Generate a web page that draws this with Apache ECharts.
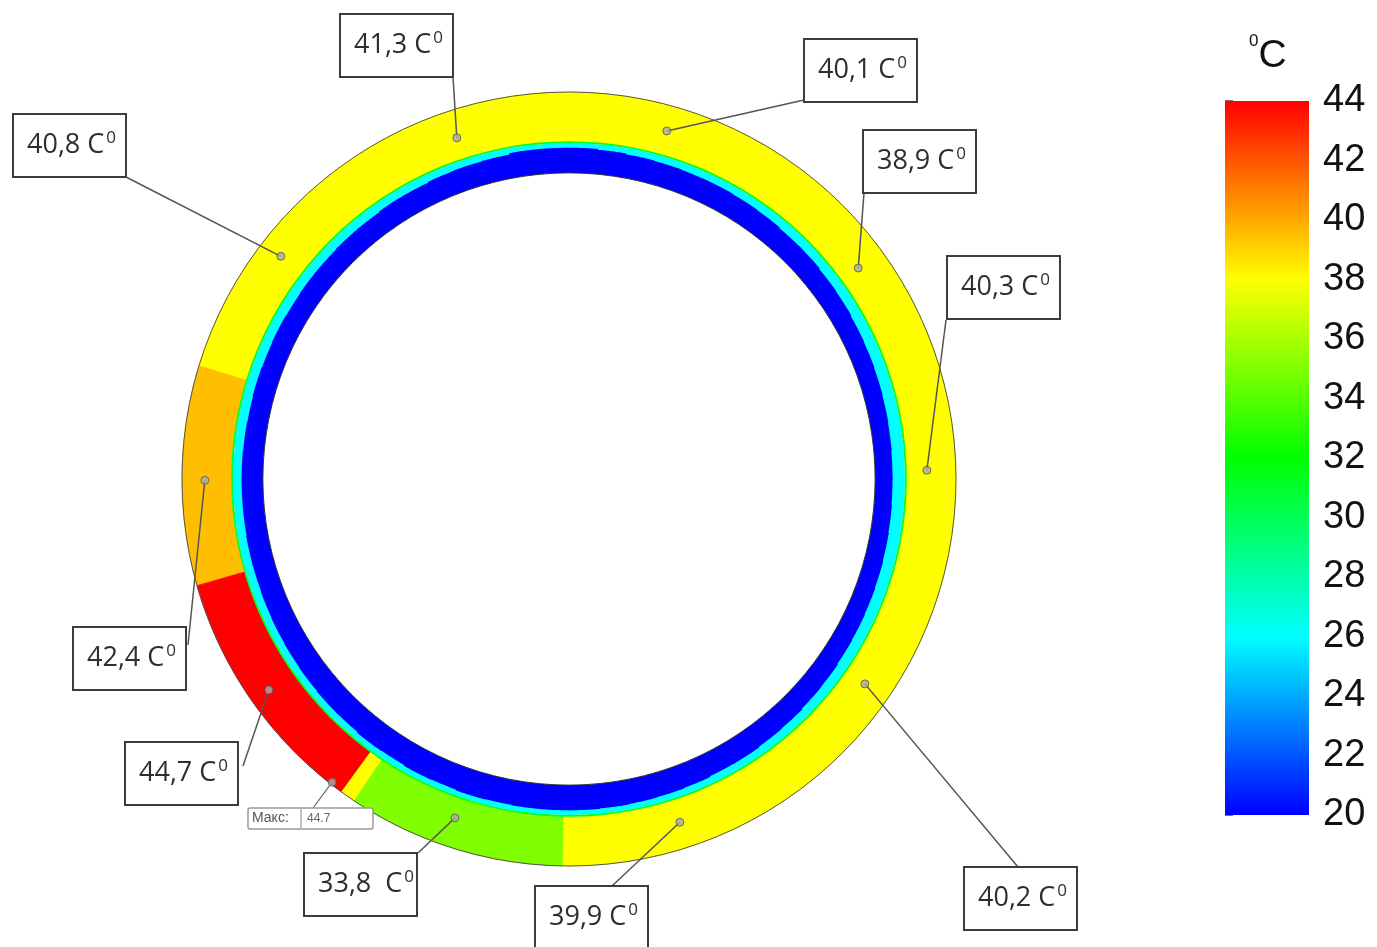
<!DOCTYPE html>
<html>
<head>
<meta charset="utf-8">
<script src="https://cdn.jsdelivr.net/npm/echarts@6/dist/echarts.min.js"></script>
<style>
  html, body { margin: 0; padding: 0; background: #ffffff; }
  #chart { width: 1377px; height: 947px; }
</style>
</head>
<body>
<div id="chart"></div>
<script>
// ---- Temperature scale, °C ----
const scaleTicks = [20, 22, 24, 26, 28, 30, 32, 34, 36, 38, 40, 42, 44];
const scaleStops = [20, 26, 32, 38, 44];
const scaleColors = ['#0000ff', '#00ffff', '#00ff00', '#ffff00', '#ff0000'];

// ---- Pipe cross-section, radius in % of the outer radius ----
const boreRadius = 79.1;          // inner (bore) surface
const coolantTemp = 20;           // temperature of the cold layer next to the bore
const coldStep = 5;               // angular step of the cold-layer edge, degrees
// outer edge of the cold layer, every 5° counter-clockwise from the right
const coldEdge = [
  83.6, 83.7, 83.8, 83.9, 84.0, 84.1, 84.3, 84.4, 84.6, 84.6, 84.8, 84.9,
  85.0, 85.0, 85.1, 85.2, 85.4, 85.6, 85.6, 85.6, 85.2, 85.1, 85.0, 84.8,
  84.8, 84.6, 84.6, 84.5, 84.5, 84.4, 84.5, 84.4, 84.5, 84.4, 84.5, 84.6,
  84.6, 84.6, 84.7, 84.7, 84.8, 84.9, 85.0, 85.1, 85.2, 85.2, 85.4, 85.3,
  85.5, 85.4, 85.6, 85.5, 85.6, 85.6, 85.6, 85.5, 85.4, 85.3, 85.2, 85.0,
  85.0, 84.8, 84.7, 84.5, 84.4, 84.2, 84.1, 84.0, 83.9, 83.8, 83.7, 83.6
];
// transition layers between the cold layer and the shell
const layerInner = [81.0, 86.8];
const layerOuter = [86.8, 87.3];
const layerTemp = [26, 31];
// shell sectors: start / end angle (deg, counter-clockwise from the right) and temperature
const shellInner = 87.2;
const zoneStart = [-91, 163, 196, 234, 236.3];
const zoneEnd   = [163, 196, 234, 236.3, 269];
const zoneTemp  = [38, 39.5, 44, 38, 35];

// ---- Measurement points ----
const probeAngle  = [108.2, 74.3, 36.1, 1.4, 325.3, 287.9, 251.4, 215.1, 180.2, 142.3];
const probeRadius = [92.8, 93.4, 92.5, 92.5, 93.0, 93.2, 92.4, 94.8, 94.1, 94.1];
const probeValue  = [41.3, 40.1, 38.9, 40.3, 40.2, 39.9, 33.8, 44.7, 42.4, 40.8];
const probeGap    = [' ', ' ', ' ', ' ', ' ', ' ', '  ', ' ', ' ', ' '];
// maximum marker
const maxAngle = 232.0, maxRadius = 99.4, maxValue = 44.7;

// ---- Callout layout (pixels) ----
const boxLeft = [340, 804, 863, 947, 964, 535, 304, 125, 73, 13];
const boxTop  = [14, 39, 130, 256, 867, 886, 853, 742, 627, 114];
const leadX   = [453, 804, 864, 946, 1018, 612, 418, 243, 188, 126];
const leadY   = [77, 100, 193, 320, 867, 886, 853, 766, 645, 177];
const boxW = 113, boxH = 63;
const maxBox = { x: 248, y: 808, w: 125, h: 21, split: 53, leadX: 313, leadY: 808 };

const chart = echarts.init(document.getElementById('chart'));

function arcPoints(api, r, a0, a1) {
  const n = Math.max(2, Math.ceil(Math.abs(a1 - a0) / 0.25));
  const pts = [];
  for (let i = 0; i <= n; i++) {
    pts.push(api.coord([r, a0 + (a1 - a0) * i / n]));
  }
  return pts;
}
function bandPolygon(api, r0, r1, a0, a1) {
  return arcPoints(api, r1, a0, a1).concat(arcPoints(api, r0, a1, a0));
}
function radiusPx(params, api, r) {
  const cs = params.coordSys;
  const p = api.coord([r, 0]);
  return Math.hypot(p[0] - cs.cx, p[1] - cs.cy);
}

const labelFont = 'Open Sans';

const option = {
  backgroundColor: '#ffffff',
  animation: false,
  polar: { center: [569, 479], radius: 387 },
  angleAxis: { type: 'value', min: 0, max: 360, startAngle: 0, clockwise: false, show: false },
  radiusAxis: { type: 'value', min: 0, max: 100, show: false },
  grid: { left: 1225, top: 101, width: 84, height: 714 },
  xAxis: { type: 'value', min: 0, max: 1, show: false },
  yAxis: {
    type: 'value', position: 'right',
    min: scaleTicks[0], max: scaleTicks[scaleTicks.length - 1],
    interval: scaleTicks[1] - scaleTicks[0],
    axisLine: { show: false },
    axisTick: { show: true, length: 8, lineStyle: { color: '#444', width: 1.5 } },
    splitLine: { show: false },
    axisLabel: { fontSize: 38, color: '#111', fontFamily: 'Liberation Sans', margin: 14 }
  },
  visualMap: {
    type: 'continuous', show: false, min: scaleStops[0], max: scaleStops[scaleStops.length - 1],
    dimension: 2, seriesIndex: [0, 1, 2],
    inRange: { color: scaleColors }
  },
  graphic: [{
    type: 'text', left: 1249, top: 33,
    style: {
      text: '{s|0}{c|C}',
      rich: {
        s: { fontSize: 17, fontFamily: 'Liberation Sans', fill: '#111', verticalAlign: 'top', lineHeight: 20 },
        c: { fontSize: 39, fontFamily: 'Liberation Sans', fill: '#111', lineHeight: 46 }
      }
    }
  }],
  series: [
    {
      // shell sectors
      type: 'custom', coordinateSystem: 'polar', z: 1, silent: true,
      data: zoneStart.map((s, i) => [s, zoneEnd[i], zoneTemp[i]]),
      renderItem(params, api) {
        const c = api.visual('color');
        return {
          type: 'polygon',
          shape: { points: bandPolygon(api, shellInner, 100, api.value(0), api.value(1)) },
          style: { fill: c, stroke: c, lineWidth: 0.8, lineJoin: 'round' }
        };
      }
    },
    {
      // transition layers
      type: 'custom', coordinateSystem: 'polar', z: 2, silent: true,
      data: layerInner.map((r, i) => [r, layerOuter[i], layerTemp[i]]),
      renderItem(params, api) {
        const cs = params.coordSys;
        return {
          type: 'sector',
          shape: {
            cx: cs.cx, cy: cs.cy,
            r0: radiusPx(params, api, api.value(0)),
            r: radiusPx(params, api, api.value(1)),
            startAngle: 0, endAngle: Math.PI * 2
          },
          style: { fill: api.visual('color') }
        };
      }
    },
    {
      // cold layer next to the bore; each step overlaps the next one slightly
      type: 'custom', coordinateSystem: 'polar', z: 3, silent: true,
      data: coldEdge.map((r, i) => [i * coldStep, r, coolantTemp]),
      renderItem(params, api) {
        const a = api.value(0);
        const c = api.visual('color');
        return {
          type: 'polygon',
          shape: { points: bandPolygon(api, boreRadius, api.value(1), a, a + coldStep + 0.4) },
          style: { fill: c }
        };
      }
    },
    {
      // bore and outer surface outlines
      type: 'custom', coordinateSystem: 'polar', z: 4, silent: true,
      data: [[boreRadius, 0], [100, 0]],
      renderItem(params, api) {
        const cs = params.coordSys;
        return {
          type: 'circle',
          shape: { cx: cs.cx, cy: cs.cy, r: radiusPx(params, api, api.value(0)) },
          style: { fill: 'none', stroke: params.dataIndex === 0 ? '#333' : '#555', lineWidth: 1 }
        };
      }
    },
    {
      // callouts with measured temperatures
      type: 'custom', coordinateSystem: 'polar', z: 5, silent: true,
      data: probeRadius.map((r, i) => [r, probeAngle[i], probeValue[i]]),
      renderItem(params, api) {
        const i = params.dataIndex;
        const p = api.coord([api.value(0), api.value(1)]);
        const txt = api.value(2).toFixed(1).replace('.', ',') + probeGap[i] + 'C';
        return {
          type: 'group',
          children: [
            { type: 'line', shape: { x1: p[0], y1: p[1], x2: leadX[i], y2: leadY[i] },
              style: { stroke: '#555', lineWidth: 1.5 } },
            { type: 'rect', shape: { x: boxLeft[i], y: boxTop[i], width: boxW, height: boxH },
              style: { fill: '#ffffff', stroke: '#3c3c3c', lineWidth: 2 } },
            { type: 'text',
              style: {
                x: boxLeft[i] + 14, y: boxTop[i] + boxH / 2,
                verticalAlign: 'middle', align: 'left',
                text: '{v|' + txt + '}{s|0}',
                rich: {
                  v: { fontFamily: labelFont, fontSize: 27, fill: '#2e2e2e', lineHeight: 32 },
                  s: { fontFamily: labelFont, fontSize: 17, fill: '#2e2e2e', lineHeight: 16, verticalAlign: 'top', padding: [0, 0, 0, 2] }
                }
              } }
          ]
        };
      }
    },
    {
      // maximum marker
      type: 'custom', coordinateSystem: 'polar', z: 5, silent: true,
      data: [[maxRadius, maxAngle, maxValue]],
      renderItem(params, api) {
        const p = api.coord([api.value(0), api.value(1)]);
        const b = maxBox;
        return {
          type: 'group',
          children: [
            { type: 'line', shape: { x1: p[0], y1: p[1], x2: b.leadX, y2: b.leadY },
              style: { stroke: '#666', lineWidth: 1.2 } },
            { type: 'rect', shape: { x: b.x, y: b.y, width: b.w, height: b.h, r: 2 },
              style: { fill: '#ffffff', stroke: '#9a9a9a', lineWidth: 1.5 } },
            { type: 'line', shape: { x1: b.x + b.split, y1: b.y + 1, x2: b.x + b.split, y2: b.y + b.h - 1 },
              style: { stroke: '#9a9a9a', lineWidth: 1.2 } },
            { type: 'text', style: { x: b.x + 4, y: b.y + b.h / 2, verticalAlign: 'middle',
                text: 'Макс:', fontFamily: 'Liberation Sans', fontSize: 14, fill: '#555' } },
            { type: 'text', style: { x: b.x + b.split + 6, y: b.y + b.h / 2, verticalAlign: 'middle',
                text: String(api.value(2)), fontFamily: 'Liberation Sans', fontSize: 12, fill: '#666' } }
          ]
        };
      }
    },
    {
      // measurement points
      type: 'scatter', coordinateSystem: 'polar', z: 6, silent: true,
      symbol: 'circle', symbolSize: 8,
      itemStyle: { color: '#a9a9a9', borderColor: '#555', borderWidth: 1 },
      data: probeRadius.map((r, i) => [r, probeAngle[i]]).concat([[maxRadius, maxAngle]])
    },
    {
      // colour bar
      type: 'custom', coordinateSystem: 'cartesian2d', z: 2, silent: true,
      data: [[0, scaleTicks[0]]],
      renderItem(params, api) {
        const lo = scaleTicks[0], hi = scaleTicks[scaleTicks.length - 1];
        const tl = api.coord([0, hi]);
        const br = api.coord([1, lo]);
        const stops = scaleStops.map((v, k) => ({ offset: (v - lo) / (hi - lo), color: scaleColors[k] }));
        return {
          type: 'rect',
          shape: { x: tl[0], y: tl[1], width: br[0] - tl[0], height: br[1] - tl[1] },
          style: { fill: new echarts.graphic.LinearGradient(0, 1, 0, 0, stops) }
        };
      }
    }
  ]
};

chart.setOption(option);
</script>
</body>
</html>
